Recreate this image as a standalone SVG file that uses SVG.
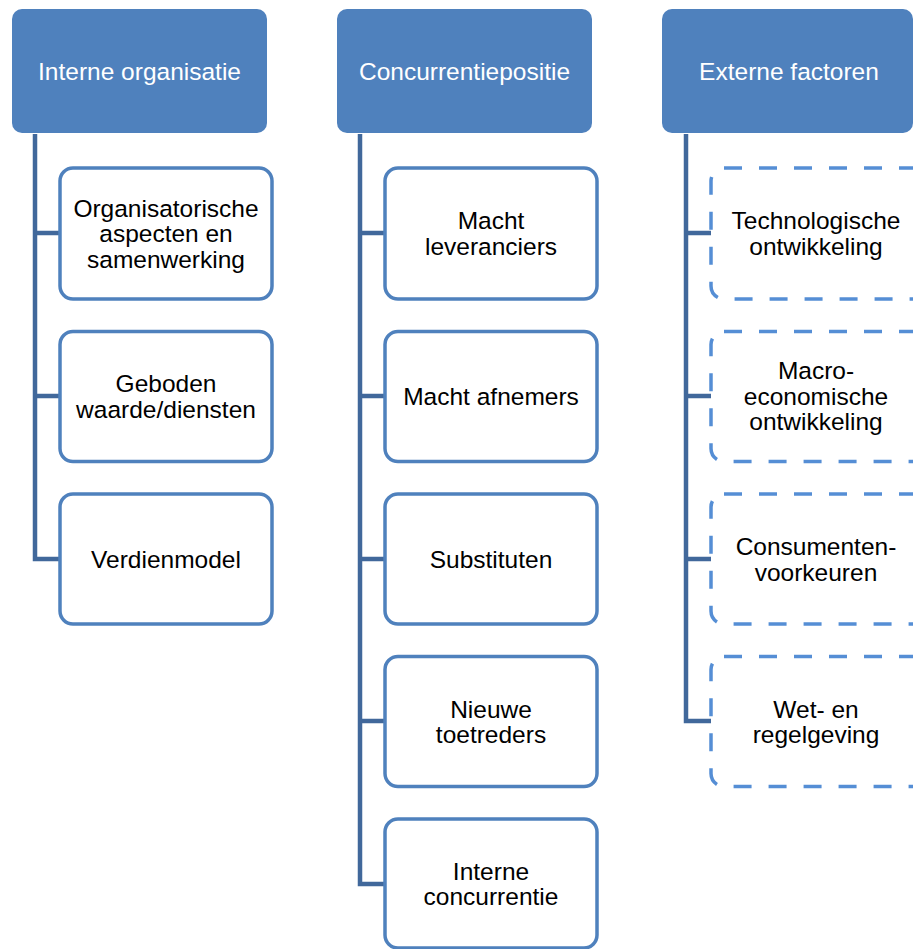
<svg xmlns="http://www.w3.org/2000/svg" width="913" height="949" viewBox="0 0 913 949">
<style>
.hdr{fill:#4F81BD;}
.ht{fill:#FFFFFF;font-family:"Liberation Sans",Arial,sans-serif;font-size:24.5px;text-anchor:middle;}
.box{fill:#FFFFFF;stroke:#4F81BD;stroke-width:3.5;}
.dbox{fill:#FFFFFF;stroke:#558ED5;stroke-width:3.5;stroke-dasharray:18 17;}
.t{fill:#000000;font-family:"Liberation Sans",Arial,sans-serif;font-size:24.5px;text-anchor:middle;}
.con{fill:none;stroke:#41689B;stroke-width:4.5;stroke-linejoin:miter;}
</style>
<rect width="913" height="949" fill="#FFFFFF"/>
<g id="connectors">
<path class="con" d="M35 134 V559 H60 M35 233 H60 M35 396 H60"/>
<path class="con" d="M360 134 V884 H385 M360 233 H385 M360 396 H385 M360 559 H385 M360 721 H385"/>
<path class="con" d="M686 134 V721 H711 M686 233 H711 M686 396 H711 M686 559 H711"/>
</g>
<g id="h1"><rect class="hdr" x="12" y="9" width="255" height="124" rx="10"/><text class="ht" x="139.5" y="79.5">Interne organisatie</text></g>
<g id="h2"><rect class="hdr" x="337" y="9" width="255" height="124" rx="10"/><text class="ht" x="464.5" y="79.5">Concurrentiepositie</text></g>
<g id="h3"><rect class="hdr" x="662" y="9" width="251" height="124" rx="10"/><text class="ht" x="789" y="79.5">Externe factoren</text></g>

<g id="c1r1"><rect class="box" x="60" y="168" width="212" height="131" rx="13"/><text class="t" x="166" y="216.5">Organisatorische</text><text class="t" x="166" y="242">aspecten en</text><text class="t" x="166" y="267.5">samenwerking</text></g>
<g id="c1r2"><rect class="box" x="60" y="331.5" width="212" height="130" rx="13"/><text class="t" x="166" y="392">Geboden</text><text class="t" x="166" y="417.5">waarde/diensten</text></g>
<g id="c1r3"><rect class="box" x="60" y="494" width="212" height="130" rx="13"/><text class="t" x="166" y="567.5">Verdienmodel</text></g>

<g id="c2r1"><rect class="box" x="385" y="168" width="212" height="131" rx="13"/><text class="t" x="491" y="229">Macht</text><text class="t" x="491" y="254.5">leveranciers</text></g>
<g id="c2r2"><rect class="box" x="385" y="331.5" width="212" height="130" rx="13"/><text class="t" x="491" y="405">Macht afnemers</text></g>
<g id="c2r3"><rect class="box" x="385" y="494" width="212" height="130" rx="13"/><text class="t" x="491" y="567.5">Substituten</text></g>
<g id="c2r4"><rect class="box" x="385" y="656.5" width="212" height="130" rx="13"/><text class="t" x="491" y="717.5">Nieuwe</text><text class="t" x="491" y="743">toetreders</text></g>
<g id="c2r5"><rect class="box" x="385" y="819" width="212" height="129" rx="13"/><text class="t" x="491" y="879.5">Interne</text><text class="t" x="491" y="905">concurrentie</text></g>

<g id="c3r1"><rect class="dbox" x="711" y="168" width="230" height="131" rx="13"/><text class="t" x="816" y="229">Technologische</text><text class="t" x="816" y="254.5">ontwikkeling</text></g>
<g id="c3r2"><rect class="dbox" x="711" y="331.5" width="230" height="130" rx="13"/><text class="t" x="816" y="379">Macro-</text><text class="t" x="816" y="404.5">economische</text><text class="t" x="816" y="430">ontwikkeling</text></g>
<g id="c3r3"><rect class="dbox" x="711" y="494" width="230" height="130" rx="13"/><text class="t" x="816" y="555">Consumenten-</text><text class="t" x="816" y="580.5">voorkeuren</text></g>
<g id="c3r4"><rect class="dbox" x="711" y="656.5" width="230" height="130" rx="13"/><text class="t" x="816" y="717.5">Wet- en</text><text class="t" x="816" y="743">regelgeving</text></g>
</svg>
